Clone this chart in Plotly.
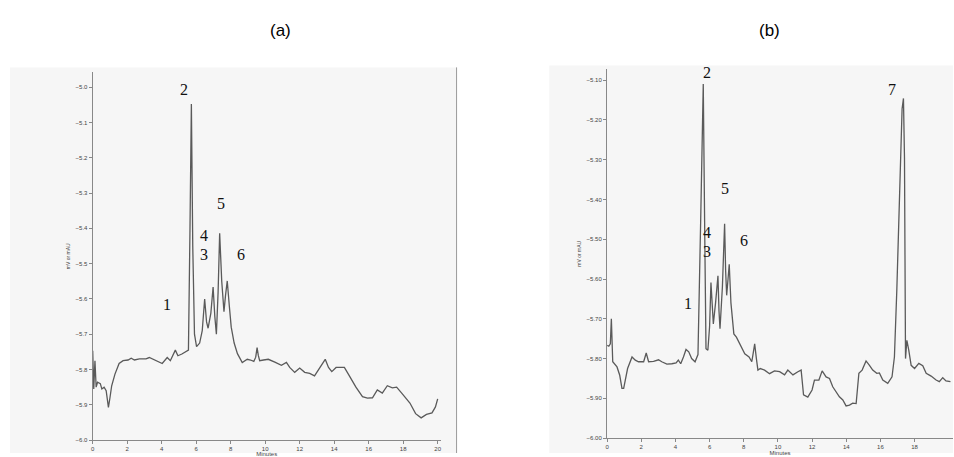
import plotly.graph_objects as go

# ---------------- data: chromatogram (a) ----------------
time_a = [0, 0.06, 0.13, 0.2, 0.28, 0.44, 0.53, 0.66, 0.78, 0.91, 1.0, 1.1, 1.29, 1.53,
          1.76, 2.05, 2.23, 2.42, 2.71, 3.09, 3.28, 3.56, 3.84, 4.03, 4.32, 4.5, 4.79,
          4.94, 5.17, 5.45, 5.55, 5.64, 5.72, 5.8, 5.9, 6.02, 6.2, 6.35, 6.49, 6.6, 6.69,
          6.85, 6.98, 7.08, 7.17, 7.27, 7.36, 7.48, 7.61, 7.7, 7.8, 7.92, 8.03, 8.2, 8.39,
          8.67, 8.96, 9.15, 9.34, 9.45, 9.53, 9.6, 9.68, 9.9, 10.18, 10.56, 10.94, 11.23,
          11.42, 11.71, 12.0, 12.29, 12.58, 12.86, 13.06, 13.25, 13.48, 13.67, 13.86,
          14.11, 14.59, 14.88, 15.26, 15.64, 15.93, 16.22, 16.5, 16.79, 17.08, 17.37,
          17.62, 17.95, 18.39, 18.72, 19.04, 19.35, 19.67, 19.87, 20.0]
signal_a = [-5.747, -5.855, -5.775, -5.85, -5.836, -5.84, -5.855, -5.85, -5.86, -5.907,
            -5.88, -5.846, -5.813, -5.783, -5.775, -5.773, -5.768, -5.773, -5.77, -5.77,
            -5.766, -5.773, -5.78, -5.783, -5.766, -5.775, -5.745, -5.761, -5.756, -5.749,
            -5.745, -5.40, -5.048, -5.45, -5.70, -5.735, -5.725, -5.69, -5.60, -5.665,
            -5.683, -5.64, -5.566, -5.65, -5.70, -5.58, -5.414, -5.55, -5.636, -5.59,
            -5.549, -5.62, -5.68, -5.725, -5.755, -5.78, -5.771, -5.773, -5.777, -5.765,
            -5.738, -5.76, -5.775, -5.773, -5.771, -5.779, -5.788, -5.78, -5.794, -5.808,
            -5.796, -5.808, -5.811, -5.818, -5.804, -5.79, -5.771, -5.794, -5.806, -5.794,
            -5.794, -5.818, -5.85, -5.877, -5.881, -5.88, -5.858, -5.867, -5.846, -5.852,
            -5.85, -5.869, -5.895, -5.925, -5.937, -5.927, -5.923, -5.906, -5.883]

# ---------------- data: chromatogram (b) ----------------
time_b = [0, 0.1, 0.19, 0.25, 0.33, 0.43, 0.58, 0.74, 0.87, 0.97, 1.07, 1.2, 1.46, 1.65,
          1.84, 2.14, 2.29, 2.43, 2.72, 3.01, 3.2, 3.5, 3.79, 4.04, 4.17, 4.31, 4.47, 4.62,
          4.78, 4.95, 5.15, 5.24, 5.32, 5.48, 5.63, 5.72, 5.79, 5.9, 6.0, 6.08, 6.15, 6.22,
          6.35, 6.49, 6.55, 6.61, 6.75, 6.88, 6.94, 7.0, 7.08, 7.15, 7.25, 7.35, 7.42, 7.57,
          7.78, 8.06, 8.31, 8.47, 8.54, 8.64, 8.74, 8.83, 8.97, 9.22, 9.51, 9.8, 10.1,
          10.39, 10.58, 10.88, 11.17, 11.36, 11.5, 11.75, 12.0, 12.14, 12.4, 12.59, 12.82,
          13.02, 13.21, 13.41, 13.6, 13.8, 13.99, 14.19, 14.38, 14.58, 14.74, 14.93,
          15.16, 15.36, 15.55, 15.79, 15.94, 16.14, 16.43, 16.68, 16.82, 16.96, 17.11,
          17.27, 17.35, 17.41, 17.47, 17.55, 17.66, 17.8, 18.0, 18.25, 18.48, 18.68,
          18.97, 19.26, 19.45, 19.65, 19.84, 20.1]
signal_b = [-5.767, -5.769, -5.763, -5.70, -5.808, -5.813, -5.821, -5.842, -5.875, -5.875,
            -5.85, -5.825, -5.796, -5.804, -5.808, -5.808, -5.786, -5.808, -5.807, -5.803,
            -5.808, -5.814, -5.813, -5.811, -5.804, -5.813, -5.796, -5.777, -5.783, -5.80,
            -5.808, -5.796, -5.79, -5.45, -5.11, -5.50, -5.775, -5.779, -5.72, -5.609,
            -5.68, -5.713, -5.66, -5.592, -5.68, -5.725, -5.62, -5.461, -5.58, -5.641,
            -5.60, -5.563, -5.66, -5.713, -5.738, -5.746, -5.763, -5.788, -5.796, -5.808,
            -5.79, -5.763, -5.80, -5.829, -5.825, -5.829, -5.838, -5.831, -5.833, -5.841,
            -5.829, -5.841, -5.833, -5.829, -5.891, -5.897, -5.879, -5.854, -5.854, -5.831,
            -5.846, -5.85, -5.871, -5.883, -5.896, -5.904, -5.919, -5.917, -5.912, -5.913,
            -5.837, -5.829, -5.806, -5.817, -5.829, -5.837, -5.836, -5.854, -5.862, -5.846,
            -5.796, -5.629, -5.38, -5.172, -5.146, -5.297, -5.80, -5.754, -5.779, -5.817,
            -5.825, -5.812, -5.818, -5.837, -5.844, -5.854, -5.858, -5.848, -5.856, -5.858]

# tick labels
xticks_a = [0, 2, 4, 6, 8, 10, 12, 14, 16, 18, 20]
xticks_b = [0, 2, 4, 6, 8, 10, 12, 14, 16, 18]
yticks_a = [-5.0, -5.1, -5.2, -5.3, -5.4, -5.5, -5.6, -5.7, -5.8, -5.9, -6.0]
yticks_b = [-5.1, -5.2, -5.3, -5.4, -5.5, -5.6, -5.7, -5.8, -5.9, -6.0]

# peak labels (text, time, signal)
labels_a = ["1", "2", "3", "4", "5", "6"]
lab_t_a = [4.28, 5.32, 6.45, 6.45, 7.46, 8.61]
lab_v_a = [-5.615, -5.006, -5.475, -5.421, -5.329, -5.475]
labels_b = ["1", "2", "3", "4", "5", "6", "7"]
lab_t_b = [4.73, 5.82, 5.82, 5.82, 6.89, 7.99, 16.7]
lab_v_b = [-5.661, -5.08, -5.531, -5.484, -5.372, -5.503, -5.123]

W, H = 954, 457
LINE = "#5a5a5a"
AX = "#888888"
TICKFONT = dict(family="Liberation Sans, Arial", size=6, color="#444444")

fig = go.Figure()
fig.add_trace(go.Scatter(x=time_a, y=signal_a, mode="lines", xaxis="x", yaxis="y",
                         line=dict(color=LINE, width=1.3), showlegend=False, hoverinfo="skip"))
fig.add_trace(go.Scatter(x=time_b, y=signal_b, mode="lines", xaxis="x2", yaxis="y2",
                         line=dict(color=LINE, width=1.3), showlegend=False, hoverinfo="skip"))

common_x = dict(showgrid=False, zeroline=False, showline=True, linecolor=AX, linewidth=1.2,
                ticks="outside", ticklen=3, tickcolor=AX, tickfont=TICKFONT,
                title=dict(text="Minutes", font=dict(family="Liberation Sans, Arial", size=6, color="#444"),
                           standoff=0))
common_y = dict(showgrid=False, zeroline=False, showline=True, linecolor=AX, linewidth=1.2,
                ticks="outside", ticklen=3, tickcolor=AX, tickfont=TICKFONT,
                title=dict(text="mV or mAU", font=dict(family="Liberation Sans, Arial", size=5, color="#444"),
                           standoff=4))

fig.update_layout(
    width=W, height=H, margin=dict(l=0, r=0, t=0, b=0),
    paper_bgcolor="white", plot_bgcolor="rgba(0,0,0,0)",
    xaxis=dict(common_x, domain=[91 / W, 440 / W], range=[0, 20.17], tickvals=xticks_a, anchor="y"),
    yaxis=dict(common_y, domain=[1 - 444 / H, 1 - 73 / H], range=[-6.0, -4.958],
               tickvals=yticks_a, tickformat=".1f", anchor="x"),
    xaxis2=dict(common_x, domain=[607 / W, 954 / W], range=[0, 20.25], tickvals=xticks_b, anchor="y2"),
    yaxis2=dict(common_y, domain=[1 - 442 / H, 1 - 70 / H], range=[-6.0, -5.073],
                tickvals=yticks_b, tickformat=".2f", anchor="x2"),
    shapes=[
        dict(type="rect", xref="paper", yref="paper", x0=8 / W, x1=456 / W, y0=0, y1=1 - 68 / H,
             fillcolor="#f6f6f6", line=dict(width=0), layer="below"),
        dict(type="rect", xref="paper", yref="paper", x0=549 / W, x1=1, y0=0, y1=1 - 66 / H,
             fillcolor="#f6f6f6", line=dict(width=0), layer="below"),
        dict(type="line", xref="paper", yref="paper", x0=456 / W, x1=456 / W, y0=0, y1=1 - 68 / H,
             line=dict(color="#9a9a9a", width=1)),
    ],
)

annotations = [
    dict(text="(a)", x=279 / W, y=1 - 31 / H, xref="paper", yref="paper", showarrow=False,
         xanchor="center", yanchor="middle",
         font=dict(family="Liberation Sans, Arial", size=17, color="black")),
    dict(text="(b)", x=770 / W, y=1 - 31 / H, xref="paper", yref="paper", showarrow=False,
         xanchor="center", yanchor="middle",
         font=dict(family="Liberation Sans, Arial", size=17, color="black")),
]
serif = dict(family="Liberation Serif, Times New Roman", size=16, color="#111111")
for txt, t, v in zip(labels_a, lab_t_a, lab_v_a):
    annotations.append(dict(text=txt, x=t, y=v, xref="x", yref="y", showarrow=False, font=serif,
                            xanchor="center", yanchor="middle"))
for txt, t, v in zip(labels_b, lab_t_b, lab_v_b):
    annotations.append(dict(text=txt, x=t, y=v, xref="x2", yref="y2", showarrow=False, font=serif,
                            xanchor="center", yanchor="middle"))
fig.update_layout(annotations=annotations)

fig.write_html("out.html", config={"displayModeBar": False},
               post_script="document.body.style.margin='0';")
